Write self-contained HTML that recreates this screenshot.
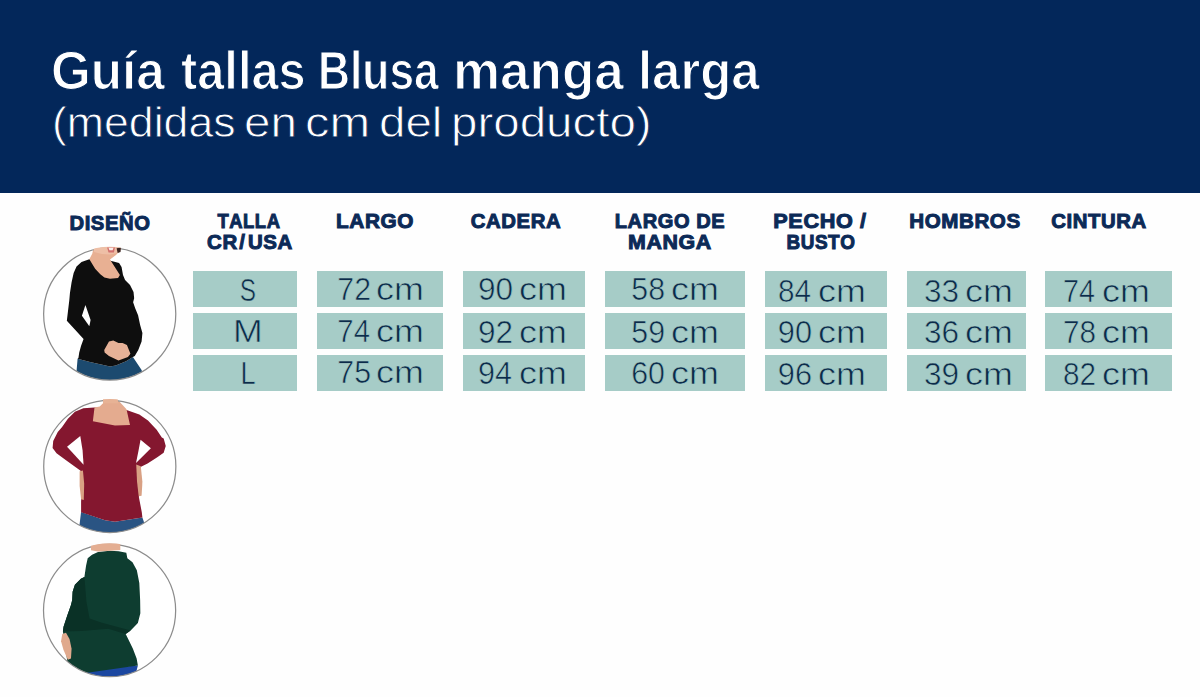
<!DOCTYPE html>
<html><head><meta charset="utf-8">
<style>
*{margin:0;padding:0;box-sizing:border-box}
html,body{width:1200px;height:697px;overflow:hidden;background:#fefefe}
body{position:relative;font-family:"Liberation Sans",sans-serif}
#hdr{position:absolute;left:0;top:0;width:1200px;height:193px;background:#03275a}
.t1{position:absolute;top:40.5px;font-weight:bold;font-size:53px;line-height:60px;color:#fff;white-space:nowrap;transform-origin:0 0;-webkit-text-stroke:1.2px #03275a}
.t2{position:absolute;top:99px;font-size:42px;line-height:48px;color:#fff;white-space:nowrap;transform-origin:0 0;-webkit-text-stroke:0.8px #03275a}
.h{position:absolute;width:200px;font-weight:bold;font-kerning:none;letter-spacing:0.6px;font-size:20.5px;line-height:20px;height:20px;color:#0c2a57;text-align:center;white-space:nowrap;-webkit-text-stroke:1.0px #0c2a57}
.c{position:absolute;background:#a6ccc7;height:36px}
.v{position:absolute;width:200px;color:#0c2b4a;font-size:30.5px;line-height:30px;height:30px;text-align:center;white-space:nowrap;-webkit-text-stroke:0.6px #a6ccc7}
.circ{position:absolute;border-radius:50%;overflow:hidden;background:#fff}
</style></head><body>
<div id="hdr"><div class="t1" style="left:51.02px;transform:scaleX(0.9657)">Guía</div><div class="t1" style="left:181.02px;transform:scaleX(0.9203)">tallas</div><div class="t1" style="left:317.83px;transform:scaleX(0.8362)">Blusa</div><div class="t1" style="left:452.79px;transform:scaleX(0.9992)">manga</div><div class="t1" style="left:637.86px;transform:scaleX(0.9590)">larga</div><div class="t2" style="left:51.65px;transform:scaleX(1.0625)">(medidas</div><div class="t2" style="left:243.61px;transform:scaleX(1.1328)">en</div><div class="t2" style="left:305.06px;transform:scaleX(1.1617)">cm</div><div class="t2" style="left:379.12px;transform:scaleX(1.1310)">del</div><div class="t2" style="left:450.94px;transform:scaleX(1.1306)">producto)</div></div>
<div class="h" style="left:9.80px;top:213.00px;transform:scaleX(0.9860)">DISEÑO</div>
<div class="h" style="left:149.45px;top:211.00px;transform:scaleX(0.8960)">TALLA</div>
<div class="h" style="left:149.87px;top:232.00px;transform:scaleX(0.9959)">CR<span style="margin:0 2.5px 0 1.5px">/</span>USA</div>
<div class="h" style="left:275.49px;top:211.00px;transform:scaleX(1.0126)">LARGO</div>
<div class="h" style="left:416.34px;top:211.00px;transform:scaleX(0.9908)">CADERA</div>
<div class="h" style="left:569.75px;top:211.00px;transform:scaleX(0.9772)">LARGO DE</div>
<div class="h" style="left:570.30px;top:232.00px;transform:scaleX(1.0422)">MANGA</div>
<div class="h" style="left:720.06px;top:211.00px;transform:scaleX(1.0561)">PECHO /</div>
<div class="h" style="left:720.86px;top:232.00px;transform:scaleX(0.9232)">BUSTO</div>
<div class="h" style="left:864.74px;top:211.00px;transform:scaleX(1.0028)">HOMBROS</div>
<div class="h" style="left:999.46px;top:211.00px;transform:scaleX(0.9908)">CINTURA</div>
<div class="c" style="left:193px;top:271px;width:104px;height:36px"></div>
<div class="c" style="left:193px;top:313px;width:104px;height:36px"></div>
<div class="c" style="left:193px;top:355px;width:104px;height:36px"></div>
<div class="c" style="left:317px;top:271px;width:126px;height:36px"></div>
<div class="c" style="left:317px;top:313px;width:126px;height:36px"></div>
<div class="c" style="left:317px;top:355px;width:126px;height:36px"></div>
<div class="c" style="left:463px;top:271px;width:122px;height:36px"></div>
<div class="c" style="left:463px;top:313px;width:122px;height:36px"></div>
<div class="c" style="left:463px;top:355px;width:122px;height:36px"></div>
<div class="c" style="left:605px;top:271px;width:140px;height:36px"></div>
<div class="c" style="left:605px;top:313px;width:140px;height:36px"></div>
<div class="c" style="left:605px;top:355px;width:140px;height:36px"></div>
<div class="c" style="left:765px;top:271px;width:122px;height:36px"></div>
<div class="c" style="left:765px;top:313px;width:122px;height:36px"></div>
<div class="c" style="left:765px;top:355px;width:122px;height:36px"></div>
<div class="c" style="left:907px;top:271px;width:119px;height:36px"></div>
<div class="c" style="left:907px;top:313px;width:119px;height:36px"></div>
<div class="c" style="left:907px;top:355px;width:119px;height:36px"></div>
<div class="c" style="left:1045px;top:271px;width:127px;height:36px"></div>
<div class="c" style="left:1045px;top:313px;width:127px;height:36px"></div>
<div class="c" style="left:1045px;top:355px;width:127px;height:36px"></div>
<div class="v" style="left:147.79px;top:274.90px;transform:scaleX(0.8002)">S</div>
<div class="v" style="left:147.50px;top:315.90px;transform:scaleX(1.1702)">M</div>
<div class="v" style="left:147.57px;top:357.70px;transform:scaleX(0.8926)">L</div>
<div class="v" style="left:270.69px;top:274.10px;width:100px;text-align:right;transform-origin:100% 50%;transform:scaleX(0.9935)">72</div>
<div class="v" style="left:376.49px;top:274.10px;width:100px;text-align:left;transform-origin:0 50%;transform:scaleX(1.1772)">cm</div>
<div class="v" style="left:269.65px;top:316.10px;width:100px;text-align:right;transform-origin:100% 50%;transform:scaleX(0.9615)">74</div>
<div class="v" style="left:376.49px;top:316.10px;width:100px;text-align:left;transform-origin:0 50%;transform:scaleX(1.1772)">cm</div>
<div class="v" style="left:270.69px;top:357.10px;width:100px;text-align:right;transform-origin:100% 50%;transform:scaleX(0.9935)">75</div>
<div class="v" style="left:376.49px;top:357.10px;width:100px;text-align:left;transform-origin:0 50%;transform:scaleX(1.1772)">cm</div>
<div class="v" style="left:413.40px;top:273.80px;width:100px;text-align:right;transform-origin:100% 50%;transform:scaleX(1.0348)">90</div>
<div class="v" style="left:519.02px;top:273.80px;width:100px;text-align:left;transform-origin:0 50%;transform:scaleX(1.1772)">cm</div>
<div class="v" style="left:413.38px;top:316.50px;width:100px;text-align:right;transform-origin:100% 50%;transform:scaleX(1.0336)">92</div>
<div class="v" style="left:519.02px;top:316.50px;width:100px;text-align:left;transform-origin:0 50%;transform:scaleX(1.1772)">cm</div>
<div class="v" style="left:412.30px;top:357.80px;width:100px;text-align:right;transform-origin:100% 50%;transform:scaleX(1.0003)">94</div>
<div class="v" style="left:519.02px;top:357.80px;width:100px;text-align:left;transform-origin:0 50%;transform:scaleX(1.1772)">cm</div>
<div class="v" style="left:564.98px;top:273.80px;width:100px;text-align:right;transform-origin:100% 50%;transform:scaleX(0.9934)">58</div>
<div class="v" style="left:670.72px;top:273.80px;width:100px;text-align:left;transform-origin:0 50%;transform:scaleX(1.1772)">cm</div>
<div class="v" style="left:564.98px;top:316.50px;width:100px;text-align:right;transform-origin:100% 50%;transform:scaleX(0.9934)">59</div>
<div class="v" style="left:670.72px;top:316.50px;width:100px;text-align:left;transform-origin:0 50%;transform:scaleX(1.1772)">cm</div>
<div class="v" style="left:565.02px;top:357.80px;width:100px;text-align:right;transform-origin:100% 50%;transform:scaleX(0.9944)">60</div>
<div class="v" style="left:670.72px;top:357.80px;width:100px;text-align:left;transform-origin:0 50%;transform:scaleX(1.1772)">cm</div>
<div class="v" style="left:711.37px;top:276.00px;width:100px;text-align:right;transform-origin:100% 50%;transform:scaleX(0.9742)">84</div>
<div class="v" style="left:818.19px;top:276.00px;width:100px;text-align:left;transform-origin:0 50%;transform:scaleX(1.1772)">cm</div>
<div class="v" style="left:712.42px;top:317.30px;width:100px;text-align:right;transform-origin:100% 50%;transform:scaleX(1.0066)">90</div>
<div class="v" style="left:818.19px;top:317.30px;width:100px;text-align:left;transform-origin:0 50%;transform:scaleX(1.1772)">cm</div>
<div class="v" style="left:712.42px;top:359.30px;width:100px;text-align:right;transform-origin:100% 50%;transform:scaleX(1.0066)">96</div>
<div class="v" style="left:818.19px;top:359.30px;width:100px;text-align:left;transform-origin:0 50%;transform:scaleX(1.1772)">cm</div>
<div class="v" style="left:858.87px;top:276.00px;width:100px;text-align:right;transform-origin:100% 50%;transform:scaleX(1.0336)">33</div>
<div class="v" style="left:964.56px;top:276.00px;width:100px;text-align:left;transform-origin:0 50%;transform:scaleX(1.1772)">cm</div>
<div class="v" style="left:858.87px;top:317.30px;width:100px;text-align:right;transform-origin:100% 50%;transform:scaleX(1.0336)">36</div>
<div class="v" style="left:964.56px;top:317.30px;width:100px;text-align:left;transform-origin:0 50%;transform:scaleX(1.1772)">cm</div>
<div class="v" style="left:858.87px;top:359.30px;width:100px;text-align:right;transform-origin:100% 50%;transform:scaleX(1.0336)">39</div>
<div class="v" style="left:964.56px;top:359.30px;width:100px;text-align:left;transform-origin:0 50%;transform:scaleX(1.1772)">cm</div>
<div class="v" style="left:995.34px;top:276.00px;width:100px;text-align:right;transform-origin:100% 50%;transform:scaleX(0.9419)">74</div>
<div class="v" style="left:1102.19px;top:276.00px;width:100px;text-align:left;transform-origin:0 50%;transform:scaleX(1.1772)">cm</div>
<div class="v" style="left:996.35px;top:317.30px;width:100px;text-align:right;transform-origin:100% 50%;transform:scaleX(0.9733)">78</div>
<div class="v" style="left:1102.19px;top:317.30px;width:100px;text-align:left;transform-origin:0 50%;transform:scaleX(1.1772)">cm</div>
<div class="v" style="left:996.35px;top:359.30px;width:100px;text-align:right;transform-origin:100% 50%;transform:scaleX(0.9733)">82</div>
<div class="v" style="left:1102.19px;top:359.30px;width:100px;text-align:left;transform-origin:0 50%;transform:scaleX(1.1772)">cm</div>
<svg style="position:absolute;left:0;top:0" width="200" height="697" viewBox="0 0 200 697">
<defs>
<clipPath id="k1"><circle cx="337.6" cy="358.2" r="320"/></clipPath>
<clipPath id="k2"><circle cx="338" cy="345.6" r="320"/></clipPath>
<clipPath id="k3"><circle cx="337" cy="341.7" r="320"/></clipPath>
<clipPath id="o1"><circle cx="337.6" cy="358.2" r="326"/></clipPath>
<clipPath id="o2"><circle cx="338" cy="345.6" r="326"/></clipPath>
<clipPath id="o3"><circle cx="337" cy="341.7" r="326"/></clipPath>
</defs>
<g transform="translate(40,240) scale(0.20648,0.20661)">
<circle cx="337.6" cy="358.2" r="320" fill="#fff"/>
<g clip-path="url(#k1)">
<path fill="#1c4a6f" d="M182,575 L242,590 L339,612 L367,608 L417,587 L450,566 L492,629 L520,720 L170,720 Z"/>
<path fill="#0e0e0e" d="M239,93 L201,107 L177,128 L163,160 L153,205 L145,257 L142,290 L130,391 L211,479 L199,512 L190,545 L186,571 L182,575 L242,590 L339,612 L367,608 L417,587 L450,566 L459,561 L476,532 L492,491 L496,450 L485,411 L475,364 L461,330 L451,301 L456,282 L453,252 L436,218 L412,194 L402,169 L395,131 L383,111 L337,99 Z"/>
<path fill="#fff" d="M220,314 L203,367 L239,418 L245,387 Z"/>
<path fill="#e8b093" d="M259,40 L392,40 L387,53 L368,73 L339,94 L387,169 L378,184 L339,187 L312,181 L292,166 L267,139 L239,93 L253,66 Z"/>
<path fill="#e6b197" d="M311,533 L334,491 L355,487 L380,498 L400,499 L421,508 L438,550 L426,566 L380,583 L334,562 L313,545 Z"/>
</g>
<circle cx="337.6" cy="358.2" r="320" fill="none" stroke="#8c8c8c" stroke-width="6"/>
<g clip-path="url(#o1)"><path fill="#eebfa6" d="M259,28 L392,28 L390,48 L380,62 L340,70 L300,68 L262,58 Z"/>
<path fill="#d2706e" d="M325,36 L363,36 L358,60 L332,61 Z"/>
<path fill="#fbeeea" d="M332,37 L356,37 L352,50 L336,50 Z"/>
<path fill="#3a2420" d="M371,40 L392,36 L390,58 L376,63 Z"/></g>
</g>
<g transform="translate(40,395) scale(0.20648,0.20661)">
<circle cx="338" cy="345.6" r="320" fill="#fff"/>
<g clip-path="url(#k2)">
<path fill="#2a5483" d="M199,566 L315,606 L363,613 L496,593 L503,613 L520,720 L180,720 Z"/>
<path fill="#84172f" d="M264,60 L210,64 L169,81 L135,115 L106,156 L86,179 L64,223 L61,257 L80,282 L126,316 L173,350 L205,373 L205,420 L199,515 L199,567 L315,606 L363,613 L496,593 L493,567 L479,495 L487,348 L521,332 L568,301 L599,279 L609,247 L599,210 L590,206 L565,168 L523,123 L481,94 L419,73 Z"/>
<path fill="#fff" d="M195,199 L131,251 L211,338 L206,266 Z"/>
<path fill="#fff" d="M487,216 L537,258 L465,329 L477,270 Z"/>
<path fill="#e4ab8f" d="M264,60 L289,56 L319,27 L319,10 L369,10 L369,15 L419,69 L436,145 L363,148 L256,127 Z"/>
<path fill="#d9a184" d="M192,369 L208,366 L214,430 L212,508 L199,505 L192,440 Z"/>
<path fill="#d9a184" d="M466,336 L488,345 L496,420 L492,488 L478,490 L470,420 Z"/>
</g>
<circle cx="338" cy="345.6" r="320" fill="none" stroke="#8c8c8c" stroke-width="6"/>
<g clip-path="url(#o2)"><path fill="#e7b295" d="M305,10 L375,10 L380,40 L305,40 Z"/></g>
</g>
<g transform="translate(40,540) scale(0.20648,0.20661)">
<circle cx="337" cy="341.7" r="320" fill="#fff"/>
<g clip-path="url(#k3)">
<path fill="#1b47a0" d="M220,626 L474,608 L468,632 L470,720 L200,720 Z"/>
<path fill="#0e3d30" d="M231,88 L252,71 L281,58 L339,52 L381,54 L418,62 L423,88 L448,108 L469,146 L481,208 L485,290 L486,355 L474,402 L439,438 L415,455 L427,479 L450,526 L468,573 L474,608 L220,644 L161,620 L132,585 L111,443 L114,420 L132,366 L150,314 L156,290 L158,250 L169,216 L198,187 L215,179 L223,125 Z"/>
<path fill="#0a3126" d="M215,179 L198,187 L169,216 L158,250 L156,290 L150,314 L132,366 L114,420 L111,443 L200,440 L330,430 L415,455 L439,438 L300,400 L240,380 L225,300 Z"/>
<path fill="#e0a98d" d="M108,455 L126,449 L143,479 L153,526 L150,573 L135,579 L114,532 L102,490 Z"/>
</g>
<circle cx="337" cy="341.7" r="320" fill="none" stroke="#8c8c8c" stroke-width="6"/>
<g clip-path="url(#o3)"><path fill="#e4ae92" d="M247,10 L389,10 L389,48 L339,52 L281,56 L247,50 Z"/></g>
</g>
</svg>

</body></html>
